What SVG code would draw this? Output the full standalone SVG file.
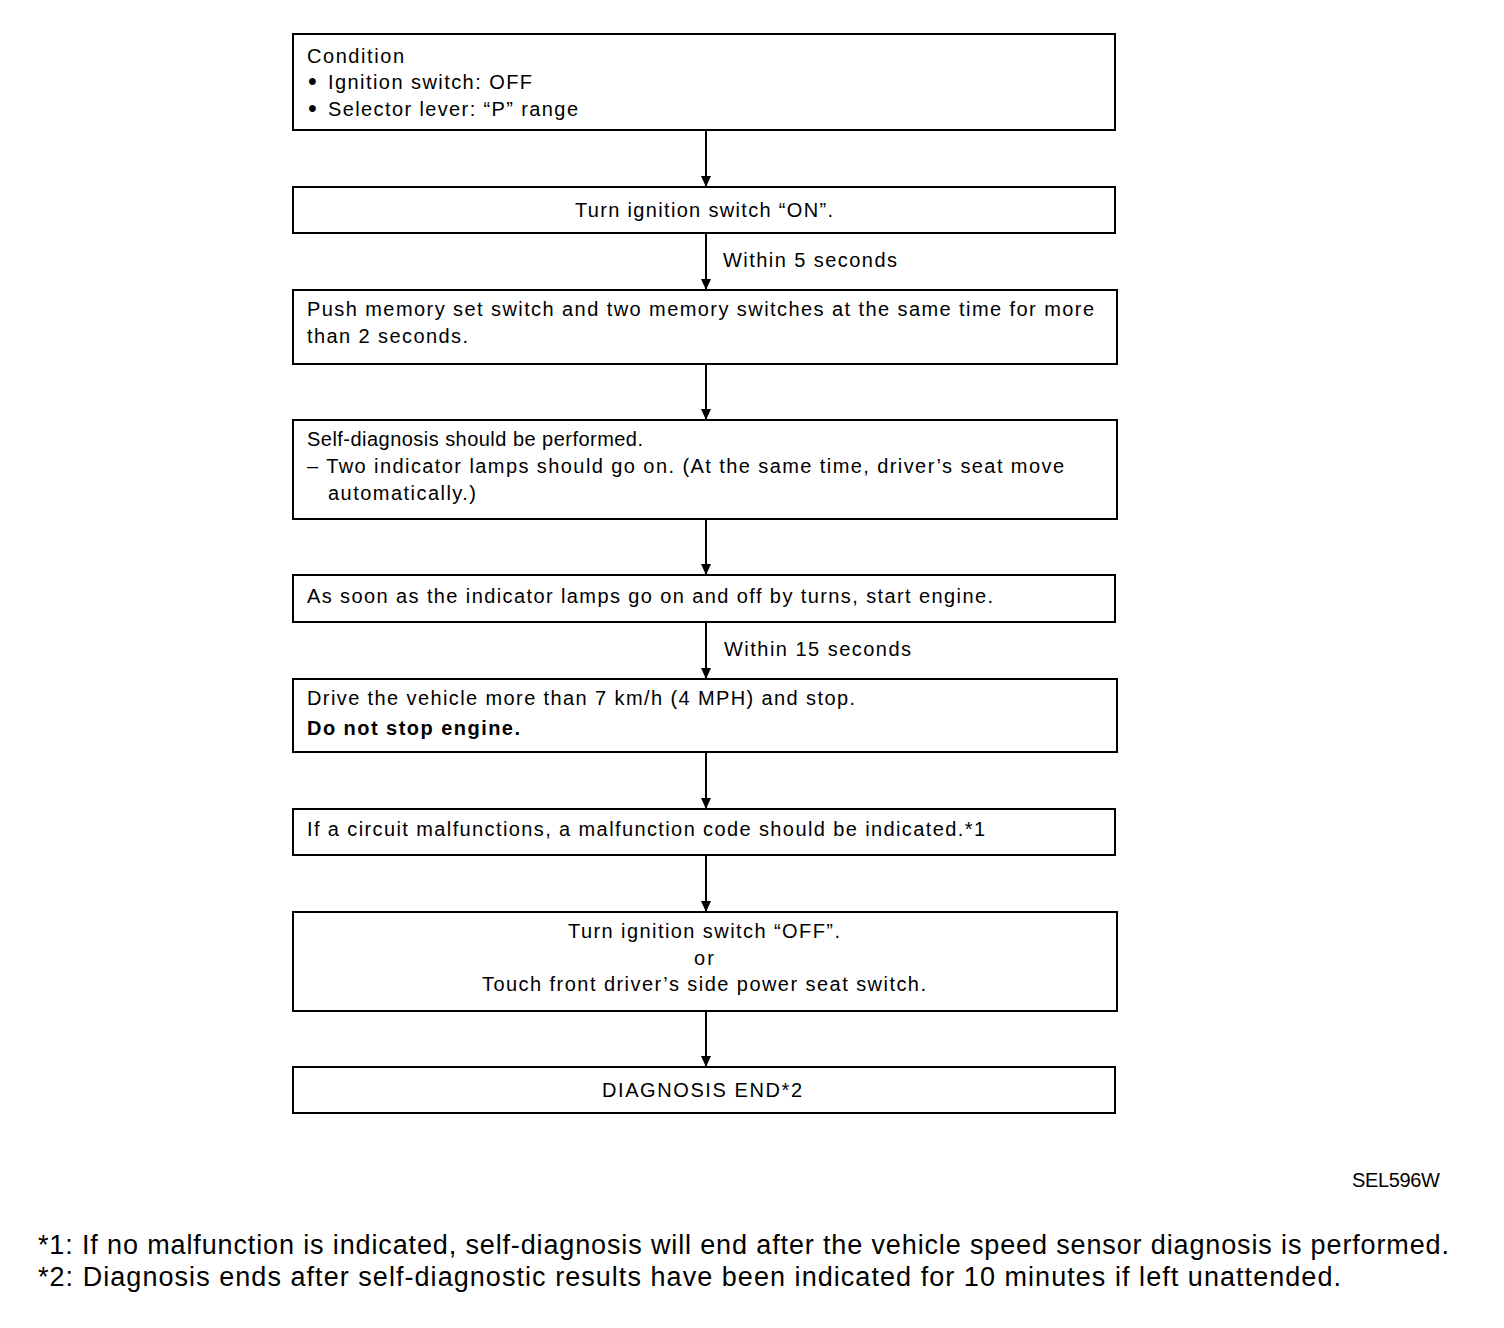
<svg xmlns="http://www.w3.org/2000/svg" width="1504" height="1328" viewBox="0 0 1504 1328">
<style>
.box{fill:#fff;stroke:#000;stroke-width:2}
.t{font-family:"Liberation Sans",Arial,sans-serif;font-size:20px;fill:#000}
.c{text-anchor:middle}
.b{font-weight:bold}
.bul{font-size:25px}
.fn{font-family:"Liberation Sans",Arial,sans-serif;font-size:27px;fill:#000}
.ln{stroke:#000;stroke-width:2;fill:none}
</style>
<defs>
<marker id="ah" markerWidth="11" markerHeight="10" refX="11" refY="5" orient="auto" markerUnits="userSpaceOnUse" viewBox="0 0 11 10">
<path d="M0,0 L11,5 L0,10 Z" fill="#000"/>
</marker>
</defs>
<rect width="1504" height="1328" fill="#fff"/>
<g id="connectors">
<line class="ln" x1="706" y1="130" x2="706" y2="187" marker-end="url(#ah)"/>
<line class="ln" x1="706" y1="233" x2="706" y2="290" marker-end="url(#ah)"/>
<line class="ln" x1="706" y1="364" x2="706" y2="420" marker-end="url(#ah)"/>
<line class="ln" x1="706" y1="519" x2="706" y2="575" marker-end="url(#ah)"/>
<line class="ln" x1="706" y1="622" x2="706" y2="679" marker-end="url(#ah)"/>
<line class="ln" x1="706" y1="752" x2="706" y2="809" marker-end="url(#ah)"/>
<line class="ln" x1="706" y1="855" x2="706" y2="912" marker-end="url(#ah)"/>
<line class="ln" x1="706" y1="1011" x2="706" y2="1067" marker-end="url(#ah)"/>
<text class="t" x="723" y="267" textLength="174" lengthAdjust="spacing">Within 5 seconds</text>
<text class="t" x="724" y="656" textLength="187" lengthAdjust="spacing">Within 15 seconds</text>
</g>
<g id="n1">
<rect class="box" x="293" y="34" width="822" height="96"/>
<text class="t" x="307" y="63" textLength="97" lengthAdjust="spacing">Condition</text>
<text class="t" x="308" y="90"><tspan class="bul">•</tspan><tspan x="328" y="89" textLength="204" lengthAdjust="spacing">Ignition switch: OFF</tspan></text>
<text class="t" x="308" y="117"><tspan class="bul">•</tspan><tspan x="328" y="116" textLength="250" lengthAdjust="spacing">Selector lever: “P” range</tspan></text>
</g>
<g id="n2">
<rect class="box" x="293" y="187" width="822" height="46"/>
<text class="t c" x="704" y="217" textLength="258" lengthAdjust="spacing">Turn ignition switch “ON”.</text>
</g>
<g id="n3">
<rect class="box" x="293" y="290" width="824" height="74"/>
<text class="t" x="307" y="316" textLength="787" lengthAdjust="spacing">Push memory set switch and two memory switches at the same time for more</text>
<text class="t" x="307" y="343" textLength="161" lengthAdjust="spacing">than 2 seconds.</text>
</g>
<g id="n4">
<rect class="box" x="293" y="420" width="824" height="99"/>
<text class="t" x="307" y="446" textLength="336" lengthAdjust="spacing">Self-diagnosis should be performed.</text>
<text class="t" x="307" y="473" textLength="757" lengthAdjust="spacing">– Two indicator lamps should go on. (At the same time, driver’s seat move</text>
<text class="t" x="328" y="500" textLength="148" lengthAdjust="spacing">automatically.)</text>
</g>
<g id="n5">
<rect class="box" x="293" y="575" width="822" height="47"/>
<text class="t" x="307" y="603" textLength="686" lengthAdjust="spacing">As soon as the indicator lamps go on and off by turns, start engine.</text>
</g>
<g id="n6">
<rect class="box" x="293" y="679" width="824" height="73"/>
<text class="t" x="307" y="705" textLength="548" lengthAdjust="spacing">Drive the vehicle more than 7 km/h (4 MPH) and stop.</text>
<text class="t b" x="307" y="735" textLength="213" lengthAdjust="spacing">Do not stop engine.</text>
</g>
<g id="n7">
<rect class="box" x="293" y="809" width="822" height="46"/>
<text class="t" x="307" y="836" textLength="678" lengthAdjust="spacing">If a circuit malfunctions, a malfunction code should be indicated.*1</text>
</g>
<g id="n8">
<rect class="box" x="293" y="912" width="824" height="99"/>
<text class="t c" x="704" y="938" textLength="272" lengthAdjust="spacing">Turn ignition switch “OFF”.</text>
<text class="t c" x="704" y="965" textLength="20" lengthAdjust="spacing">or</text>
<text class="t c" x="704" y="991" textLength="444" lengthAdjust="spacing">Touch front driver’s side power seat switch.</text>
</g>
<g id="n9">
<rect class="box" x="293" y="1067" width="822" height="46"/>
<text class="t c" x="702" y="1097" textLength="200" lengthAdjust="spacing">DIAGNOSIS END*2</text>
</g>
<text class="t" x="1352" y="1187" font-size="17" textLength="88" lengthAdjust="spacing">SEL596W</text>
<text class="fn" x="38" y="1254" textLength="1411" lengthAdjust="spacing">*1: If no malfunction is indicated, self-diagnosis will end after the vehicle speed sensor diagnosis is performed.</text>
<text class="fn" x="38" y="1286" textLength="1303" lengthAdjust="spacing">*2: Diagnosis ends after self-diagnostic results have been indicated for 10 minutes if left unattended.</text>
</svg>
